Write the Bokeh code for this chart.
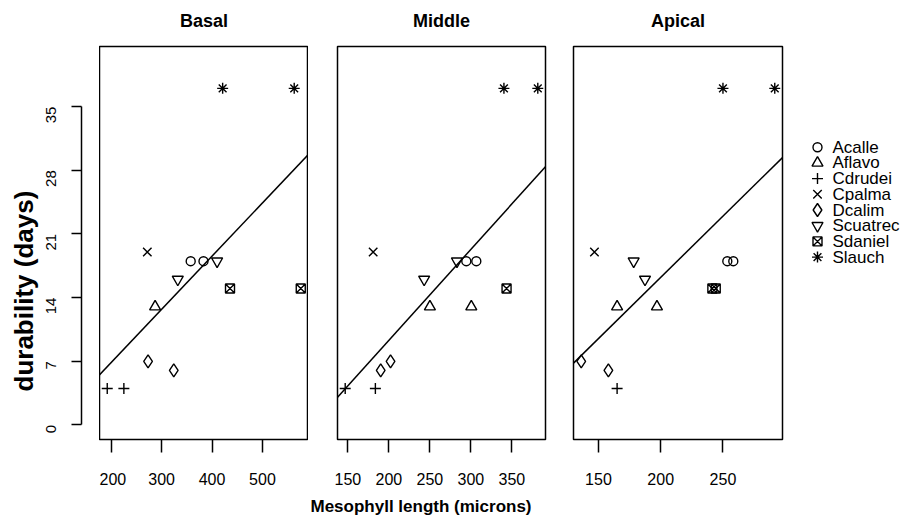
import math
from bokeh.plotting import figure
from bokeh.layouts import row
from bokeh.models import (Range1d, FixedTicker, LinearAxis, Slope, ColumnDataSource, Title)
from bokeh.core.properties import value, field
from bokeh.embed import file_html
from bokeh.resources import INLINE

# ---------------- data ----------------
species = ["Acalle", "Aflavo", "Cdrudei", "Cpalma", "Dcalim", "Scuatrec", "Sdaniel", "Slauch"]

basal_species = ["Acalle", "Acalle", "Aflavo", "Cdrudei", "Cdrudei", "Cpalma", "Dcalim", "Dcalim",
                 "Scuatrec", "Scuatrec", "Sdaniel", "Sdaniel", "Slauch", "Slauch"]
basal_x = [357.6, 383, 287, 192, 225, 271.5, 273, 324, 332, 410, 435.6, 576, 421, 563]
basal_y = [18, 18, 13, 4, 4, 19, 7, 6, 16, 18, 15, 15, 37, 37]

middle_species = ["Acalle", "Acalle", "Aflavo", "Aflavo", "Cdrudei", "Cdrudei", "Cpalma", "Dcalim", "Dcalim",
                  "Scuatrec", "Scuatrec", "Sdaniel", "Slauch", "Slauch"]
middle_x = [294.4, 306.6, 250, 300.5, 146.7, 183.5, 180.8, 190, 202, 243, 283, 343.5, 340.3, 381.6]
middle_y = [18, 18, 13, 13, 4, 4, 19, 6, 7, 16, 18, 15, 37, 37]

apical_species = ["Acalle", "Acalle", "Aflavo", "Aflavo", "Cdrudei", "Cpalma", "Dcalim", "Dcalim",
                  "Scuatrec", "Scuatrec", "Sdaniel", "Sdaniel", "Slauch", "Slauch"]
apical_x = [253.5, 258.3, 165, 197, 165, 146.8, 136.2, 158, 178.3, 187.4, 241.5, 244.2, 250, 291.6]
apical_y = [18, 18, 13, 13, 4, 19, 7, 6, 18, 16, 15, 15, 37, 37]

panel_titles = ["Basal", "Middle", "Apical"]
fit_intercept = [-4.80, -10.67, -10.70]
fit_slope = [0.0584, 0.0999, 0.1346]

basal_xticks = [200, 300, 400, 500]
middle_xticks = [150, 200, 250, 300, 350]
apical_xticks = [150, 200, 250]
y_ticks = [0, 7, 14, 21, 28, 35]
y_limits = (0, 40)

x_title = "Mesophyll length (microns)"
y_title = "durability (days)"

# ---------------- styles ----------------
MARKERS = {"Acalle": "circle", "Aflavo": "triangle", "Cdrudei": "cross", "Cpalma": "x",
           "Dcalim": "diamond", "Scuatrec": "inverted_triangle", "Sdaniel": "square_x",
           "Slauch": "asterisk"}
SIZES = {"Acalle": 9, "Aflavo": 11, "Cdrudei": 11, "Cpalma": 12,
         "Dcalim": 13, "Scuatrec": 11, "Sdaniel": 9, "Slauch": 11}
FONT = "Liberation Sans"
FRAME_H = 393
TOP = 46
BOTTOM = 76


def pad(lo, hi, frac=0.04):
    d = hi - lo
    return lo - frac * d, hi + frac * d


ylo, yhi = pad(*y_limits)


def base_fig(frame_w, left, right, y_range):
    p = figure(frame_width=frame_w, frame_height=FRAME_H,
               y_range=y_range, x_range=Range1d(0, 1),
               x_axis_location=None, y_axis_location=None,
               min_border_left=left, min_border_right=right,
               min_border_top=TOP, min_border_bottom=BOTTOM,
               toolbar_location=None, output_backend="svg")
    p.grid.visible = False
    p.outline_line_color = None
    p.background_fill_color = "white"
    p.border_fill_color = "white"
    return p


def make_panel(idx, xs, ys, sp, xticks, left, right, frame_w):
    p = base_fig(frame_w, left, right, Range1d(ylo, yhi))
    xlo, xhi = pad(min(xs), max(xs))
    p.x_range = Range1d(xlo, xhi)
    p.outline_line_color = "black"
    p.outline_line_width = 1.5

    # panel title (label of an empty axis above the frame)
    tax = LinearAxis(ticker=FixedTicker(ticks=[]), axis_line_color=None,
                     major_tick_out=0, major_tick_in=0, minor_tick_out=0, minor_tick_in=0,
                     major_tick_line_color=None, axis_label=panel_titles[idx],
                     axis_label_standoff=16, axis_label_text_font=FONT,
                     axis_label_text_font_size="18px", axis_label_text_font_style="bold",
                     axis_label_text_color="black")
    p.add_layout(tax, "above")

    ax = LinearAxis(ticker=FixedTicker(ticks=xticks), bounds=(xticks[0], xticks[-1]),
                    major_tick_out=13, major_tick_in=0, minor_tick_out=0, minor_tick_in=0,
                    axis_line_color=None, major_tick_line_width=1.5,
                    major_tick_line_color="black",
                    major_label_standoff=20, major_label_text_font=FONT,
                    major_label_text_font_size="16px", major_label_text_color="black")
    p.add_layout(ax, "below")

    p.add_layout(Slope(gradient=fit_slope[idx], y_intercept=fit_intercept[idx],
                       line_color="black", line_width=1.5))

    src = ColumnDataSource(dict(x=xs, y=ys, species=sp,
                                marker=[MARKERS[s] for s in sp],
                                size=[SIZES[s] for s in sp]))
    p.scatter(x="x", y="y", source=src, marker=field("marker"), size="size",
              line_color="black", fill_color=None, line_width=1.4)
    return p


# narrow figure that carries the shared y axis (offset from first panel, R style)
p0 = base_fig(1, 81, 17, Range1d(ylo, yhi))
yax = LinearAxis(ticker=FixedTicker(ticks=y_ticks), bounds=(y_ticks[0], y_ticks[-1]),
                 major_tick_out=10, major_tick_in=0, minor_tick_out=0, minor_tick_in=0,
                 axis_line_width=1.5, axis_line_color="black",
                 major_tick_line_width=1.5, major_tick_line_color="black",
                 major_label_orientation=math.pi / 2, major_label_standoff=20,
                 major_label_text_font=FONT, major_label_text_font_size="15px",
                 major_label_text_color="black")
p0.add_layout(yax, "left")
p0.add_layout(Title(text=y_title, align="left", offset=48, standoff=0,
                    text_font=FONT, text_font_size="26px", text_font_style="bold",
                    text_color="black"), "left")

p1 = make_panel(0, basal_x, basal_y, basal_species, basal_xticks, 0, 0, 209)
p2 = make_panel(1, middle_x, middle_y, middle_species, middle_xticks, 29, 14, 208)
p3 = make_panel(2, apical_x, apical_y, apical_species, apical_xticks, 14, 25, 209)

p2.add_layout(Title(text=x_title, align="left", vertical_align="top", offset=-27,
                    standoff=18, text_font=FONT, text_font_size="17px",
                    text_font_style="bold", text_color="black"), "below")

# legend panel: one row per species, top to bottom
ROW_PX = 15.7
FIRST_ROW_PX = 100.7      # distance of first row centre below the frame top
rows_in_frame = FRAME_H / ROW_PX
top_val = -FIRST_ROW_PX / ROW_PX
leg = base_fig(100, 0, 0, Range1d(rows_in_frame + top_val, top_val))
leg.x_range = Range1d(-10, 90)
lsrc = ColumnDataSource(dict(x=[0] * len(species), row=list(range(len(species))),
                             species=species,
                             marker=[MARKERS[s] for s in species],
                             size=[SIZES[s] for s in species]))
leg.scatter(x="x", y="row", source=lsrc, marker=field("marker"), size="size",
            line_color="black", fill_color=None, line_width=1.4)
leg.text(x="x", y="row", text="species", source=lsrc, x_offset=15,
         text_baseline="middle", text_align="left", text_font=value(FONT),
         text_font_size=value("17px"), text_color="black")

layout = row(p0, p1, p2, p3, leg, spacing=0)
open("out.html", "w").write(file_html(layout, INLINE))
